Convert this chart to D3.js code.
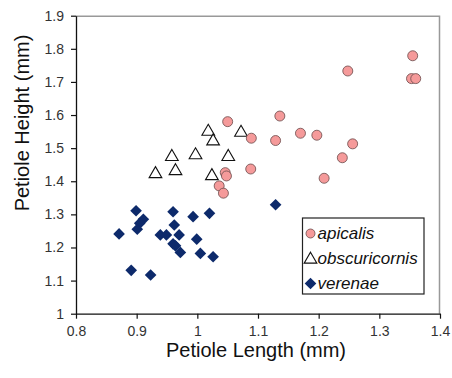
<!DOCTYPE html>
<html>
<head>
<meta charset="utf-8">
<script src="https://cdn.jsdelivr.net/npm/d3@7"></script>
<style>
  body { margin: 0; background: #fff; }
  .tick text { font-family: Arial, "Liberation Sans", sans-serif; font-size: 14px; fill: #333; }
  .axisText { font-family: Arial, "Liberation Sans", sans-serif; fill: #111; }
</style>
</head>
<body>
<div id="scatter"></div>
<script>
// Petiole length (x) / height (y) per species
var apicalisX = [1.050, 1.089, 1.046, 1.048, 1.088, 1.355, 1.248, 1.353, 1.360, 1.136, 1.129, 1.170, 1.197, 1.256, 1.239, 1.209, 1.036, 1.043];
var apicalisY = [1.580, 1.530, 1.426, 1.416, 1.437, 1.779, 1.733, 1.710, 1.710, 1.597, 1.523, 1.545, 1.539, 1.513, 1.471, 1.409, 1.386, 1.364];

var obscuricornisX = [1.018, 1.026, 1.072, 0.958, 0.997, 1.051, 0.931, 0.964, 1.024];
var obscuricornisY = [1.553, 1.524, 1.550, 1.477, 1.482, 1.477, 1.425, 1.434, 1.419];

var verenaeX = [0.871, 0.899, 0.911, 0.905, 0.901, 0.891, 0.923, 0.939, 0.949, 0.960, 0.962, 0.970, 0.960, 0.964, 0.972, 0.993, 1.020, 0.999, 1.005, 1.026, 1.129];
var verenaeY = [1.241, 1.311, 1.285, 1.273, 1.255, 1.131, 1.117, 1.238, 1.238, 1.308, 1.268, 1.238, 1.211, 1.205, 1.185, 1.293, 1.303, 1.225, 1.182, 1.172, 1.329];

var xTicks = [0.8, 0.9, 1, 1.1, 1.2, 1.3, 1.4];
var yTicks = [1, 1.1, 1.2, 1.3, 1.4, 1.5, 1.6, 1.7, 1.8, 1.9];
var seriesNames = ["apicalis", "obscuricornis", "verenae"];

var svgWidth = 452;
var svgHeight = 378;
var margin = { top: 15.7, right: 12, bottom: 64.3, left: 76 };
var width = svgWidth - margin.left - margin.right;
var height = svgHeight - margin.top - margin.bottom;

var svg = d3.select("#scatter")
  .append("svg")
  .attr("width", svgWidth)
  .attr("height", svgHeight);

var chartGroup = svg.append("g")
  .attr("transform", `translate(${margin.left}, ${margin.top})`);

var x = d3.scaleLinear().domain([0.8, 1.4]).range([0, width]);
var y = d3.scaleLinear().domain([1, 1.9]).range([height, 0]);

function pairs(xs, ys) {
  return xs.map((v, i) => ({ x: v, y: ys[i] }));
}

// grey frame on top and right
chartGroup.append("path")
  .attr("d", `M0,0.5H${width - 0.5}V${height}`)
  .attr("fill", "none")
  .attr("stroke", "#999")
  .attr("stroke-width", 1.5);

var bottomAxis = d3.axisBottom(x).tickValues(xTicks).tickSize(5).tickSizeOuter(0).tickPadding(7)
  .tickFormat(d3.format("~g"));
var leftAxis = d3.axisLeft(y).tickValues(yTicks).tickSize(5).tickSizeOuter(0).tickPadding(7)
  .tickFormat(d3.format("~g"));

var gx = chartGroup.append("g")
  .attr("transform", `translate(0, ${height})`)
  .call(bottomAxis);
var gy = chartGroup.append("g").call(leftAxis);
[gx, gy].forEach(g => {
  g.select(".domain").attr("stroke", "#111").attr("stroke-width", 1.3);
  g.selectAll(".tick line").attr("stroke", "#111").attr("stroke-width", 1.2);
});

var pink = "#f59a9a";
var navy = "#0d2a6b";
var triangle = d3.symbol().type(d3.symbolTriangle).size(70);
var diamond = d3.symbol().type(d3.symbolSquare).size(68);

// obscuricornis triangles
chartGroup.selectAll(".tri")
  .data(pairs(obscuricornisX, obscuricornisY))
  .enter()
  .append("path")
  .attr("class", "tri")
  .attr("d", triangle)
  .attr("transform", d => `translate(${x(d.x)}, ${y(d.y) + 1})`)
  .attr("fill", "#fff")
  .attr("stroke", "#111")
  .attr("stroke-width", 1.1);

// verenae diamonds
chartGroup.selectAll(".dia")
  .data(pairs(verenaeX, verenaeY))
  .enter()
  .append("path")
  .attr("class", "dia")
  .attr("d", diamond)
  .attr("transform", d => `translate(${x(d.x)}, ${y(d.y)}) rotate(45)`)
  .attr("fill", navy);

// apicalis circles
chartGroup.selectAll(".dot")
  .data(pairs(apicalisX, apicalisY))
  .enter()
  .append("circle")
  .attr("class", "dot")
  .attr("cx", d => x(d.x))
  .attr("cy", d => y(d.y))
  .attr("r", 5)
  .attr("fill", pink)
  .attr("stroke", "#6a4a4a")
  .attr("stroke-width", 0.8);

// legend
var legend = svg.append("g").attr("transform", "translate(302.5, 218)");
legend.append("rect")
  .attr("width", 121.5)
  .attr("height", 76)
  .attr("fill", "#fff")
  .attr("stroke", "#222")
  .attr("stroke-width", 1.2);

var rows = legend.selectAll(".row")
  .data(seriesNames)
  .enter()
  .append("g")
  .attr("transform", (d, i) => `translate(8, ${15.5 + i * 25})`);

rows.each(function(d, i) {
  var g = d3.select(this);
  if (i === 0) {
    g.append("circle").attr("r", 4.5).attr("fill", pink).attr("stroke", "#6a4a4a").attr("stroke-width", 0.8);
  } else if (i === 1) {
    g.append("path").attr("d", triangle).attr("transform", "translate(0,1)")
      .attr("fill", "#fff").attr("stroke", "#111").attr("stroke-width", 1.1);
  } else {
    g.append("path").attr("d", diamond).attr("transform", "rotate(45)").attr("fill", navy);
  }
});

rows.append("text")
  .attr("x", 7)
  .attr("y", 5.5)
  .attr("class", "axisText")
  .style("font-size", "17px")
  .style("font-style", "italic")
  .text(d => d);

// axis titles
svg.append("text")
  .attr("class", "axisText")
  .attr("x", 256)
  .attr("y", 357)
  .attr("text-anchor", "middle")
  .style("font-size", "20px")
  .text("Petiole Length (mm)");

svg.append("text")
  .attr("class", "axisText")
  .attr("transform", "translate(29, 123) rotate(-90)")
  .attr("text-anchor", "middle")
  .style("font-size", "20px")
  .text("Petiole Height (mm)");
</script>
</body>
</html>
